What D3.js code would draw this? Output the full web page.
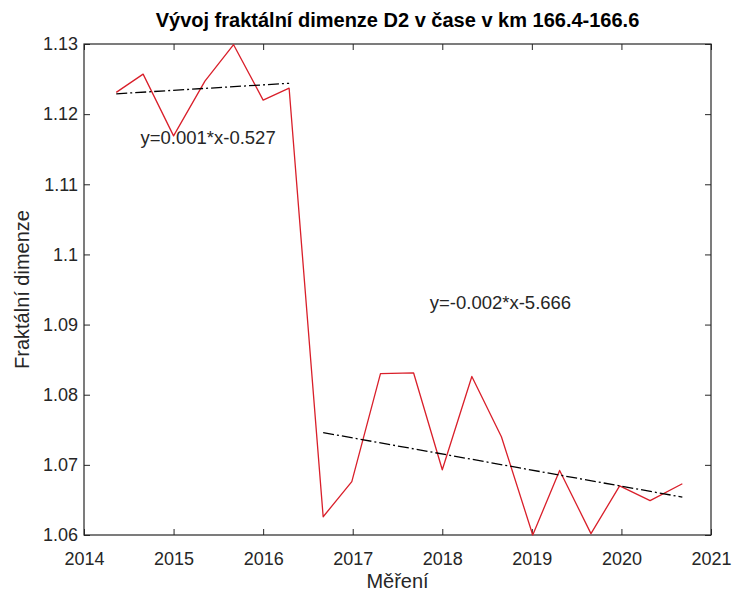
<!DOCTYPE html>
<html>
<head>
<meta charset="utf-8">
<script src="https://cdn.jsdelivr.net/npm/d3@7"></script>
<style>
	body { margin: 0; background: #fff; }
	text { font-family: "Liberation Sans", Arial, sans-serif; fill: #262626; }
	.axisTitle { font-size: 20px; }
	.title { font-size: 20px; font-weight: bold; fill: #000; }
	.tickLabel { font-size: 18px; }
	.eq { font-size: 18.5px; }
</style>
</head>
<body>
<script>
// mereni (cas) a fraktalni dimenze D2
var measureTime = [2014.36, 2014.66, 2015.0, 2015.35, 2015.67, 2016.0, 2016.29, 2016.67, 2016.99, 2017.31,
	2017.68, 2018.0, 2018.33, 2018.66, 2019.01, 2019.31, 2019.66, 2019.98, 2020.32, 2020.68];
var dimD2 = [1.1231, 1.1257, 1.1169, 1.1247, 1.1299, 1.1220, 1.1237, 1.0626, 1.0676, 1.0830,
	1.0831, 1.0693, 1.0826, 1.0740, 1.0600, 1.0692, 1.0602, 1.0670, 1.0649, 1.0673];

// linearni trendy
var trend1X = [2014.36, 2016.29];
var trend1Y = [1.1229, 1.1244];
var trend2X = [2016.67, 2020.68];
var trend2Y = [1.0746, 1.0654];

var eqLabels = ["y=0.001*x-0.527", "y=-0.002*x-5.666"];
var eqX = [2014.63, 2017.86];
var eqY = [1.1166, 1.0931];

var xTicks = [2014, 2015, 2016, 2017, 2018, 2019, 2020, 2021];
var yTicks = [1.06, 1.07, 1.08, 1.09, 1.1, 1.11, 1.12, 1.13];
var yTickLabels = ["1.06", "1.07", "1.08", "1.09", "1.1", "1.11", "1.12", "1.13"];

var margin = {left: 84, right: 21, top: 44, bottom: 58};
var width = 732 - margin.left - margin.right;
var height = 593 - margin.top - margin.bottom;
var tickLen = 6;

var x = d3.scaleLinear().domain([2014, 2021]).range([0, width]);
var y = d3.scaleLinear().domain([1.06, 1.13]).range([height, 0]);

var svg = d3.select("body").append("svg")
	.attr("width", 732).attr("height", 593);

var chartGroup = svg.append("g")
	.attr("transform", "translate(" + margin.left + ", " + margin.top + ")");

// osy s tiky dovnitr (styl MATLAB)
var xAxis = d3.axisBottom(x).tickValues(xTicks).tickSize(-tickLen).tickPadding(17).tickFormat(d3.format("d"));
var xAxisTop = d3.axisTop(x).tickValues(xTicks).tickSize(-tickLen).tickFormat("");
var yAxis = d3.axisLeft(y).tickValues(yTicks).tickSize(-tickLen).tickPadding(6)
	.tickFormat(function(d, i) { return yTickLabels[i]; });
var yAxisRight = d3.axisRight(y).tickValues(yTicks).tickSize(-tickLen).tickFormat("");

function styleAxis(g) {
	g.select(".domain").remove();
	g.selectAll("line").attr("stroke", "#262626").attr("stroke-width", 1);
	g.selectAll("text").attr("class", "tickLabel").attr("font-size", null).attr("font-family", null).attr("fill", null);
}

chartGroup.append("g").attr("transform", "translate(0, " + height + ")").call(xAxis).call(styleAxis);
chartGroup.append("g").call(xAxisTop).call(styleAxis);
chartGroup.append("g").call(yAxis).call(styleAxis);
chartGroup.append("g").attr("transform", "translate(" + width + ", 0)").call(yAxisRight).call(styleAxis);

chartGroup.append("rect")
	.attr("x", 0).attr("y", 0)
	.attr("width", width).attr("height", height)
	.attr("fill", "none")
	.attr("stroke", "#262626")
	.attr("stroke-width", 1.2);

var line = d3.line()
	.x(function(d) { return x(d[0]); })
	.y(function(d) { return y(d[1]); });

chartGroup.append("path")
	.datum(d3.zip(measureTime, dimD2))
	.attr("d", line)
	.attr("fill", "none")
	.attr("stroke", "#d91f2a")
	.attr("stroke-width", 1.3)
	.attr("stroke-linejoin", "round");

[[trend1X, trend1Y], [trend2X, trend2Y]].forEach(function(t) {
	chartGroup.append("path")
		.datum(d3.zip(t[0], t[1]))
		.attr("d", line)
		.attr("fill", "none")
		.attr("stroke", "#000")
		.attr("stroke-width", 1.3)
		.attr("stroke-dasharray", "11,3,2,3");
});

chartGroup.selectAll(".eq").data(eqLabels)
	.enter().append("text")
	.attr("class", "eq")
	.attr("x", function(d, i) { return x(eqX[i]); })
	.attr("y", function(d, i) { return y(eqY[i]); })
	.attr("dominant-baseline", "central")
	.text(function(d) { return d; });

chartGroup.append("text")
	.attr("class", "title")
	.attr("x", width / 2)
	.attr("y", -17)
	.style("text-anchor", "middle")
	.text("Vývoj fraktální dimenze D2 v čase v km 166.4-166.6");

chartGroup.append("text")
	.attr("class", "axisTitle")
	.attr("x", width / 2)
	.attr("y", height + 53)
	.style("text-anchor", "middle")
	.text("Měření");

chartGroup.append("text")
	.attr("class", "axisTitle")
	.attr("transform", "rotate(-90)")
	.attr("x", -height / 2)
	.attr("y", -margin.left + 22)
	.attr("dominant-baseline", "central")
	.style("text-anchor", "middle")
	.text("Fraktální dimenze");
</script>
</body>
</html>
